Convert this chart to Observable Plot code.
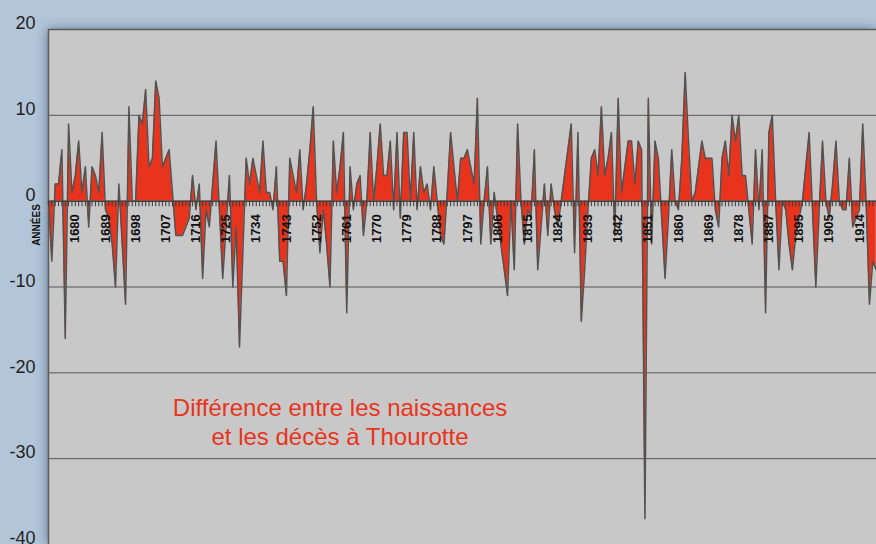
<!DOCTYPE html>
<html><head><meta charset="utf-8">
<script src="https://cdn.jsdelivr.net/npm/d3@7"></script>
<script src="https://cdn.jsdelivr.net/npm/@observablehq/plot@0.6"></script>
<style>
html,body{margin:0;padding:0;background:#b3c5d8;overflow:hidden;}
#chart{width:876px;height:544px;}
#chart svg [aria-label="frame"]{filter:drop-shadow(-1px 0 6px rgba(40,60,90,0.6));}
</style></head><body><div id="chart"></div>
<script>
// Difference births - deaths per year (index 0 = first year on the axis)
const values = [
0,-7,2,2,6,-16,9,1,3,7,
1,4,-3,4,3,1,8,-1,-2,-5,
-10,2,-5,-12,11,0,0,10,9,13,
4,5,14,12,4,5,6,1,-4,-4,
-4,-3,-2,3,-1,2,-9,-1,-3,2,
7,-1,-9,-3,3,-10,-3,-17,-6,5,
2,5,3,1,7,1,1,-1,4,-7,
-7,-11,5,3,1,6,-1,2,6,11,
0,-6,-1,-5,-10,7,1,4,8,-13,
4,-1,2,3,-4,0,8,0,4,9,
3,3,7,-1,8,-2,8,8,0,8,
-1,4,1,2,-1,4,0,-4,-5,1,
8,4,0,5,5,6,4,2,12,-5,
0,4,-5,1,-2,-5,-8,-11,0,-8,
9,0,-5,-1,-2,6,-8,-3,2,-4,
2,-1,-3,0,3,6,9,-6,8,-14,
-8,-1,5,6,3,11,3,5,8,-4,
12,1,4,7,7,2,7,6,-37,12,
-5,7,5,-2,-9,-2,6,0,-1,5,
15,7,0,1,4,7,5,5,5,-1,
-3,5,7,3,10,7,10,3,3,-1,
-5,6,-1,6,-13,8,10,0,-8,0,
-1,-5,-8,-4,-2,0,4,8,-1,-10,
-1,7,0,-2,2,7,0,-1,-1,5,
-3,-2,-1,9,0,-12,-7,-8
];
const tickLabels = ["1680","1689","1698","1707","1716","1725","1734","1743","1752","1761","1770","1779","1788","1797","1806","1815","1824","1833","1842","1851","1860","1869","1878","1887","1895","1905","1914"];
const firstLabelIndex = 8, labelStep = 9;
const yTicks = [20, 10, 0, -10, -20, -30, -40];
const gridLines = [10, -10, -20, -30];
const axisTitle = ["ANNÉES"];
const annotationLines = ["Différence entre les naissances", "et les décès à Thourotte"];
const annotationX = 87;
const annotationY = [-24.1, -27.5];

const data = values.map((v, i) => ({i, v}));
const yearIdx = d3.range(values.length);
const labelData = tickLabels.map((t, k) => ({t, i: firstLabelIndex + labelStep * k}));
const RED = "#e8341c";
const FONT = "'Liberation Sans', Arial, Helvetica, sans-serif";

const chart = Plot.plot({
  width: 876, height: 544,
  marginLeft: 48, marginRight: 0, marginTop: 29, marginBottom: 0,
  x: {domain: [0, 247.1], axis: null},
  y: {domain: [-40, 20], axis: null},
  style: {background: "transparent", fontFamily: FONT, overflow: "visible"},
  marks: [
    Plot.frame({fill: "#c8c8c8", stroke: "none"}),
    Plot.ruleY(gridLines, {stroke: "#575757", strokeWidth: 1}),
    Plot.ruleY([20], {stroke: "#5c5c5c", strokeWidth: 1.5}),
    Plot.ruleX([0], {stroke: "#5c5c5c", strokeWidth: 1.5}),
    Plot.areaY(data, {x: "i", y: "v", fill: RED}),
    Plot.lineY(data, {x: "i", y: "v", stroke: "#525252", strokeWidth: 1.5}),
    Plot.ruleY([0], {stroke: "#454545", strokeWidth: 1.5}),
    Plot.ruleX(yearIdx, {x: d => d, y1: () => 0, y2: () => -0.65, stroke: "#3c3c3c", strokeWidth: 1}),
    Plot.text(labelData, {x: "i", y: () => 0, text: "t", rotate: -90, textAnchor: "end", dy: 13,
      fontSize: 13, fontWeight: "bold", fill: "#111"}),
    Plot.text(yTicks, {y: d => d, text: d => String(d), frameAnchor: "left", dx: -13, dy: -6,
      textAnchor: "end", fontSize: 18, fill: "#222"}),
    Plot.text(axisTitle, {y: () => 0, text: d => d, frameAnchor: "left", dx: -12, dy: 3, rotate: -90,
      textAnchor: "end", fontSize: 10, fontWeight: "bold", fill: "#111"}),
    Plot.text(annotationLines, {x: () => annotationX, y: (d, k) => annotationY[k], text: d => d,
      textAnchor: "middle", fontSize: 24, fill: RED})
  ]
});
document.getElementById("chart").appendChild(chart);
</script>
</body></html>
